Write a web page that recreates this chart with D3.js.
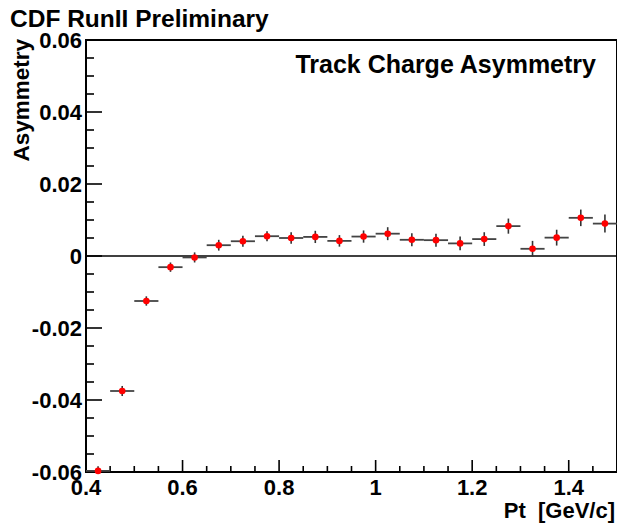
<!DOCTYPE html>
<html>
<head>
<meta charset="utf-8">
<script src="https://cdn.jsdelivr.net/npm/d3@7"></script>
<style>
  html, body { margin: 0; padding: 0; background: #fff; }
  svg { display: block; font-family: "Liberation Sans", Arial, sans-serif; font-weight: bold; }
</style>
</head>
<body>
<svg id="chart" width="617" height="528"></svg>
<script>
// Bin centres in Pt [GeV/c], bin width 0.05
const ptCenters = [0.425, 0.475, 0.525, 0.575, 0.625, 0.675, 0.725, 0.775, 0.825, 0.875, 0.925,
                   0.975, 1.025, 1.075, 1.125, 1.175, 1.225, 1.275, 1.325, 1.375, 1.425, 1.475];
const binHalfWidth = 0.025;
// Measured track charge asymmetry per bin
const asymmetry = [-0.0597, -0.0375, -0.0125, -0.0031, -0.0004, 0.0030, 0.0041, 0.0055, 0.0050, 0.0053, 0.0042,
                   0.0054, 0.0062, 0.0045, 0.0044, 0.0035, 0.0047, 0.0083, 0.0020, 0.0051, 0.0106, 0.0090];
// Statistical uncertainty per bin
const asymError = [0.0013, 0.0014, 0.0013, 0.0013, 0.0014, 0.0015, 0.0015, 0.0014, 0.0016, 0.0017, 0.0016,
                   0.0017, 0.0018, 0.0018, 0.0018, 0.0019, 0.0019, 0.0021, 0.0022, 0.0022, 0.0023, 0.0025];
const xTickValues = [0.4, 0.6, 0.8, 1.0, 1.2, 1.4];
const xTickLabels = ["0.4", "0.6", "0.8", "1", "1.2", "1.4"];
const yTickValues = [-0.06, -0.04, -0.02, 0, 0.02, 0.04, 0.06];
const yTickLabels = ["-0.06", "-0.04", "-0.02", "0", "0.02", "0.04", "0.06"];

const svg = d3.select("#chart");
const frame = { left: 86, right: 617, top: 40, bottom: 472 };

const x = d3.scaleLinear().domain([0.4, 1.5]).range([frame.left, frame.right]);
const y = d3.scaleLinear().domain([-0.06, 0.06]).range([frame.bottom, frame.top]);

// Minor ticks every 0.05 on x and 0.005 on y; majors are longer
const xMinor = d3.range(0, 23).map(i => 0.4 + i * 0.05).filter(v => v > 0.401 && v < 1.499);
const yMinor = d3.range(0, 25).map(i => -0.06 + i * 0.005).filter(v => v > -0.0599 && v < 0.0599);

const ticks = svg.append("g").attr("stroke", "#000").attr("stroke-width", 1.6);
ticks.selectAll("line.xt").data(xMinor).join("line")
  .attr("x1", d => x(d)).attr("x2", d => x(d))
  .attr("y1", frame.bottom)
  .attr("y2", d => frame.bottom - (xTickValues.some(t => Math.abs(t - d) < 1e-6) ? 12 : 6));
ticks.selectAll("line.yt").data(yMinor).join("line")
  .attr("y1", d => y(d)).attr("y2", d => y(d))
  .attr("x1", frame.left)
  .attr("x2", d => frame.left + (yTickValues.some(t => Math.abs(t - d) < 1e-6) ? 16 : 8));

// Zero reference line
svg.append("line")
  .attr("x1", frame.left).attr("x2", frame.right)
  .attr("y1", y(0)).attr("y2", y(0))
  .attr("stroke", "#000").attr("stroke-width", 1.6);

// Frame
svg.append("rect")
  .attr("x", frame.left).attr("y", frame.top)
  .attr("width", frame.right - frame.left).attr("height", frame.bottom - frame.top)
  .attr("fill", "none").attr("stroke", "#000").attr("stroke-width", 2);

// Tick labels
svg.append("g").selectAll("text").data(xTickValues).join("text")
  .attr("x", d => x(d)).attr("y", 495)
  .attr("text-anchor", "middle").attr("font-size", 22)
  .text((d, i) => xTickLabels[i]);
svg.append("g").selectAll("text").data(yTickValues).join("text")
  .attr("x", 82).attr("y", d => y(d) + 8)
  .attr("text-anchor", "end").attr("font-size", 22)
  .text((d, i) => yTickLabels[i]);

// Data points with error bars
const pts = svg.append("g");
const data = ptCenters.map((c, i) => ({ c, v: asymmetry[i], e: asymError[i] }));
pts.selectAll("line.h").data(data).join("line")
  .attr("x1", d => x(d.c - binHalfWidth)).attr("x2", d => x(d.c + binHalfWidth))
  .attr("y1", d => y(d.v)).attr("y2", d => y(d.v))
  .attr("stroke", "#444").attr("stroke-width", 1.8);
pts.selectAll("line.v").data(data).join("line")
  .attr("x1", d => x(d.c)).attr("x2", d => x(d.c))
  .attr("y1", d => Math.min(frame.bottom, y(d.v - d.e)))
  .attr("y2", d => Math.max(frame.top, y(d.v + d.e)))
  .attr("stroke", "#333").attr("stroke-width", 1.6);
pts.selectAll("circle").data(data).join("circle")
  .attr("cx", d => x(d.c)).attr("cy", d => y(d.v)).attr("r", 3.3)
  .attr("fill", "#ff0000");

// Titles
svg.append("text").attr("x", 10).attr("y", 27).attr("font-size", 24.5)
  .text("CDF RunII Preliminary");
svg.append("text").attr("x", 596).attr("y", 73).attr("font-size", 25)
  .attr("text-anchor", "end").text("Track Charge Asymmetry");
svg.append("text").attr("x", 615).attr("y", 518).attr("font-size", 22)
  .attr("text-anchor", "end").attr("xml:space", "preserve").style("white-space", "pre")
  .text("Pt  [GeV/c]");
svg.append("text").attr("transform", "translate(29,39) rotate(-90)")
  .attr("font-size", 22.5).attr("text-anchor", "end").text("Asymmetry");
</script>
</body>
</html>
